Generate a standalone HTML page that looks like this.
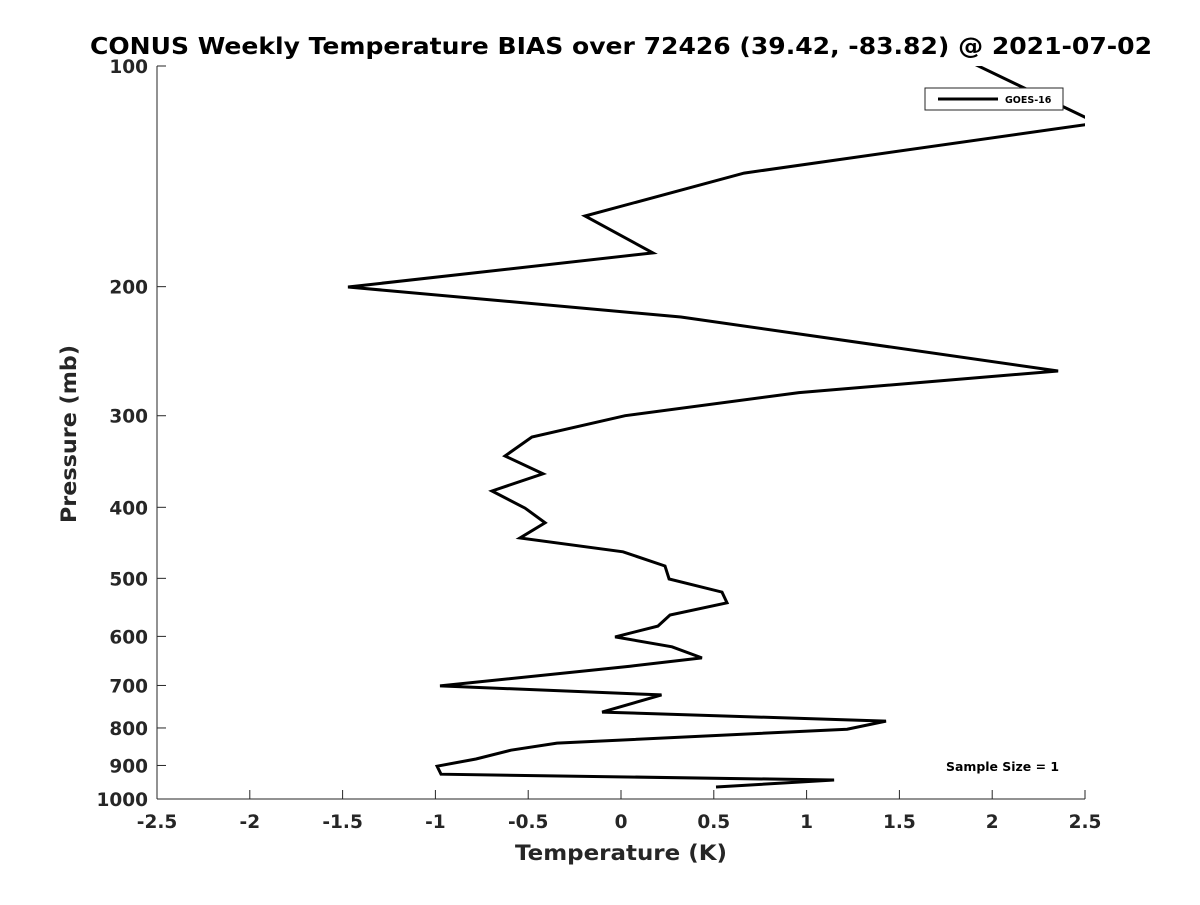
<!DOCTYPE html>
<html><head><meta charset="utf-8"><style>
html,body{margin:0;padding:0;background:#fff;}
svg text{font-family:"DejaVu Sans","Liberation Sans",sans-serif;font-weight:bold;fill:#262626;}
</style></head><body>
<svg width="1200" height="900" viewBox="0 0 1200 900" id="chart">
<defs><clipPath id="plotclip"><rect x="157" y="66" width="928" height="733"/></clipPath></defs>
<text x="90" y="54" font-size="23" textLength="1062" lengthAdjust="spacingAndGlyphs" style="fill:#000">CONUS Weekly Temperature BIAS over 72426 (39.42, -83.82) @ 2021-07-02</text>
<g id="axes"></g>
<g id="series" clip-path="url(#plotclip)"></g>
<text x="515" y="860" font-size="21" textLength="212" lengthAdjust="spacingAndGlyphs">Temperature (K)</text>
<text transform="translate(76,523) rotate(-90)" font-size="21" textLength="178" lengthAdjust="spacingAndGlyphs">Pressure (mb)</text>
<g>
<rect x="925" y="88" width="138" height="22" fill="#fff" stroke="#262626" stroke-width="1"/>
<line x1="938" y1="99" x2="998" y2="99" stroke="#000" stroke-width="3"/>
<text x="1005" y="103" font-size="9.5" style="fill:#000">GOES-16</text>
</g>
<text x="946" y="771" font-size="12" textLength="113" lengthAdjust="spacingAndGlyphs" style="fill:#000">Sample Size = 1</text>
</svg>
<script>
const pressures = [95.1,119.6,140,160.2,179.9,200.2,220,260.7,279,300,320.7,340.5,360,380,401,420,440.5,460,481,501,522,540,561,581,601,620,642,659,701,721,761,783,803,839,858,882,902,925,942,963];
const biasValues = [1.746,2.565,0.663,-0.194,0.172,-1.471,0.323,2.355,0.959,0.022,-0.48,-0.625,-0.42,-0.695,-0.517,-0.409,-0.544,0.011,0.237,0.259,0.544,0.571,0.264,0.199,-0.032,0.275,0.436,0.049,-0.975,0.218,-0.102,1.428,1.218,-0.345,-0.593,-0.781,-0.991,-0.97,1.148,0.512];
const xTicks = [-2.5,-2,-1.5,-1,-0.5,0,0.5,1,1.5,2,2.5];
const yTicks = [100,200,300,400,500,600,700,800,900,1000];

const X0=157,X1=1085,Y0=66,Y1=799;
const xScale = v => X0 + (v+2.5)/5*(X1-X0);
const yScale = p => Y0 + Math.log10(p/100)*(Y1-Y0);
const NS="http://www.w3.org/2000/svg";
const axes=document.getElementById('axes');
function mk(tag,attrs,parent){const e=document.createElementNS(NS,tag);for(const k in attrs)e.setAttribute(k,attrs[k]);parent.appendChild(e);return e;}
const xl=mk('line',{x1:X0,y1:Y1,x2:X1,y2:Y1,stroke:'#262626','stroke-width':1},axes);


const yl=mk('line',{x1:X0,y1:Y0,x2:X0,y2:Y1,stroke:'#262626','stroke-width':1},axes);


xTicks.forEach(v=>{
  const x=xScale(v);
  const t=mk('line',{x1:x,y1:Y1,x2:x,y2:Y1-9,stroke:'#262626','stroke-width':1},axes);
  
  
  const l=mk('text',{x:x,y:Y1+29,'text-anchor':'middle','font-size':18.5},axes);
  l.textContent=String(v);
  
  
});
yTicks.forEach(p=>{
  const y=yScale(p);
  const t=mk('line',{x1:X0,y1:y,x2:X0+9,y2:y,stroke:'#262626','stroke-width':1},axes);
  
  
  const l=mk('text',{x:X0-9,y:y+7,'text-anchor':'end','font-size':18.5},axes);
  l.textContent=String(p);
  
  
});
const pts=pressures.map((p,i)=>xScale(biasValues[i]).toFixed(1)+','+yScale(p).toFixed(1)).join(' ');
const pl=mk('polyline',{points:pts,fill:'none',stroke:'#000','stroke-width':3,'stroke-linejoin':'miter'},document.getElementById('series'));


</script>
</body></html>
